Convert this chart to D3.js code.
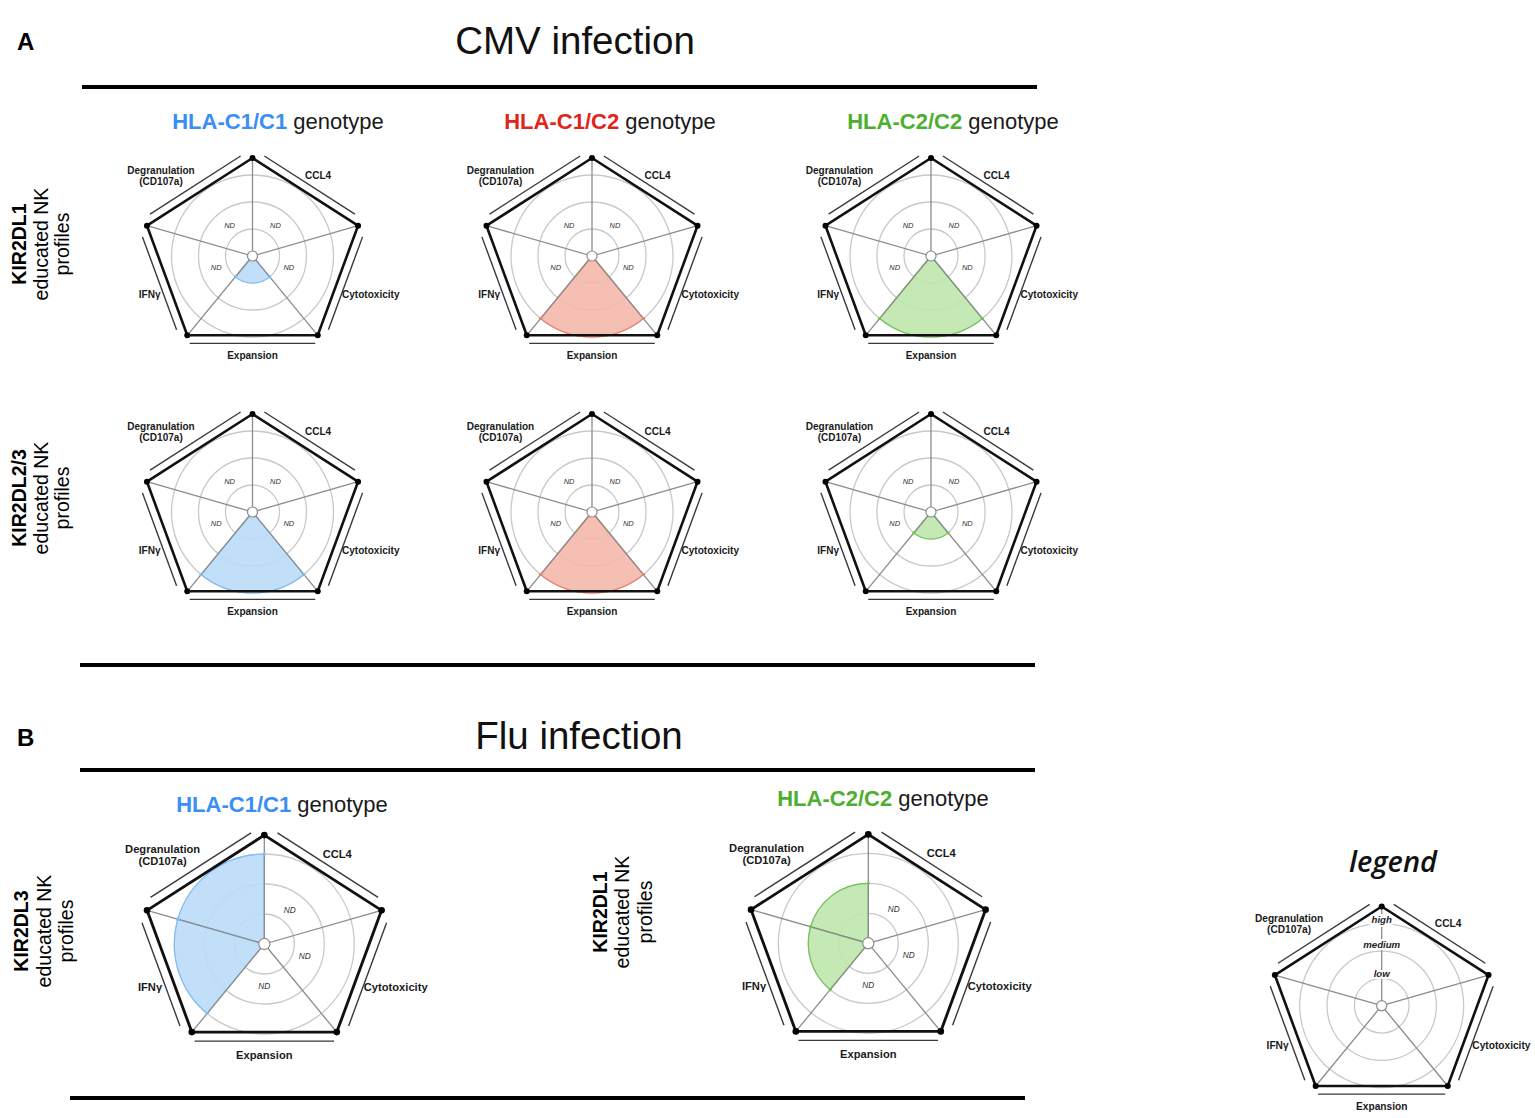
<!DOCTYPE html>
<html><head><meta charset="utf-8">
<script src="https://cdn.jsdelivr.net/npm/d3@7"></script>
<style>body{margin:0;background:#fff} svg{display:block}</style>
</head><body>
<svg id="c" width="1535" height="1118"></svg>
<script>
// ---------- DATA ----------
const categories = ["Degranulation|(CD107a)", "CCL4", "Cytotoxicity", "Expansion", "IFNγ"];
const levelNames = ["ND", "low", "medium", "high"];   // 0 = ND ... 3 = high
const genotypes = ["HLA-C1/C1", "HLA-C1/C2", "HLA-C2/C2"];
const cmvKIR2DL1 = [[0,0,0,1,0],[0,0,0,3,0],[0,0,0,3,0]];
const cmvKIR2DL23 = [[0,0,0,3,0],[0,0,0,3,0],[0,0,0,1,0]];
const fluKIR2DL3_C1C1 = [3,0,0,0,3];
const fluKIR2DL1_C2C2 = [2,0,0,0,2];
const legendValues = [null,null,null,null,null];
const genoColor = {"HLA-C1/C1":"#3a8ef5","HLA-C1/C2":"#e0251c","HLA-C2/C2":"#4daf2f"};
const fillBase = {"HLA-C1/C1":"#bbdcf8","HLA-C1/C2":"#f4b8ab","HLA-C2/C2":"#bee7ad"};
const fillStroke = {"HLA-C1/C1":"#7dbdf2","HLA-C1/C2":"#e9806c","HLA-C2/C2":"#72c455"};

const svg = d3.select("#c");
const FONT = "'Liberation Sans', Arial, Helvetica, sans-serif";
svg.style("font-family", FONT);

const KX = 1.37, KY = 1.21;
// label offsets in units of R (layout)
const labelPos = [[-1.13,-1.06],[0.81,-1.0],[1.46,0.48],[0,1.23],[-1.27,0.48]];

function drawRadar(cx, cy, R, values, geno, opts={}) {
  const g = svg.append("g").attr("transform", `translate(${cx},${cy})`);
  const r = d3.scaleLinear().domain([0,3]).range([0,R]);
  const n = 5;
  const verts = d3.range(n).map(i => {
    const t = i*2*Math.PI/n;
    return [KX*R*Math.sin(t), -KY*R*Math.cos(t)];
  });
  const ang = verts.map(v => { let a = Math.atan2(v[0], -v[1]); if (a < -1e-9) a += 2*Math.PI; return a; });
  const sector = k => {
    let a0 = ang[(k+4)%5], a1 = ang[k];
    if (k === 0) a1 = 2*Math.PI;
    return [a0, a1];
  };
  // grid rings
  g.selectAll("circle.ring").data([1,2,3]).join("circle")
    .attr("r", d => r(d)).attr("fill","none").attr("stroke","#c9c9c9").attr("stroke-width",1.3);
  // fills
  if (geno) {
    const arc = d3.arc().innerRadius(0);
    values.forEach((v,k) => {
      if (!v) return;
      const [a0,a1] = sector(k);
      g.append("path").attr("d", arc({outerRadius:r(v), startAngle:a0, endAngle:a1}))
        .attr("fill", fillBase[geno]).attr("fill-opacity",0.9)
        .attr("stroke", fillStroke[geno]).attr("stroke-width",1.2);
    });
  }
  // spokes
  g.selectAll("line.spoke").data(verts).join("line")
    .attr("x1",0).attr("y1",0).attr("x2",d=>d[0]).attr("y2",d=>d[1])
    .attr("stroke","#8c8c8c").attr("stroke-width",1.3);
  if (geno) {
    values.forEach((v,k) => {
      if (!v) return;
      sector(k).forEach(a => {
        g.append("circle").attr("cx", r(v)*Math.sin(a)).attr("cy", -r(v)*Math.cos(a))
          .attr("r",1.6).attr("fill", fillStroke[geno]);
      });
    });
  }
  // pentagon
  g.append("path").attr("d", d3.line()(verts.concat([verts[0]])))
    .attr("fill","none").attr("stroke","#111").attr("stroke-width",R*0.032).attr("stroke-linejoin","round");
  // parallel outer lines
  const off = R*0.1, inset = R*0.11;
  for (let k=0;k<n;k++){
    const p = verts[(k+4)%5], q = verts[k];
    const dx=q[0]-p[0], dy=q[1]-p[1], L=Math.hypot(dx,dy);
    const ux=dx/L, uy=dy/L;
    let nx=uy, ny=-ux;
    const mx=(p[0]+q[0])/2, my=(p[1]+q[1])/2;
    if (nx*mx+ny*my<0){nx=-nx;ny=-ny;}
    const ins = k===3 ? R*0.03 : inset;
    g.append("line")
      .attr("x1", p[0]+ux*ins+nx*off).attr("y1", p[1]+uy*ins+ny*off)
      .attr("x2", q[0]-ux*ins+nx*off).attr("y2", q[1]-uy*ins+ny*off)
      .attr("stroke","#3a3a3a").attr("stroke-width",1.4);
  }
  g.selectAll("circle.v").data(verts).join("circle")
    .attr("cx",d=>d[0]).attr("cy",d=>d[1]).attr("r",R*0.037).attr("fill","#000");
  g.append("circle").attr("r",R*0.062).attr("fill","#fff").attr("stroke","#8c8c8c").attr("stroke-width",1.2);
  values.forEach((v,k) => {
    if (v !== 0) return;
    const [a0,a1] = sector(k); const a=(a0+a1)/2, d=R*0.47;
    g.append("text").attr("x", d*Math.sin(a)).attr("y", -d*Math.cos(a))
      .attr("text-anchor","middle").attr("dominant-baseline","central")
      .attr("font-size", R*0.092).attr("font-style","italic").attr("fill","#333").text("ND");
  });
  const fs = R*0.124;
  categories.forEach((c,k) => {
    const lines = c.split("|");
    const [lx,ly] = labelPos[k];
    const t = g.append("text").attr("text-anchor","middle").attr("font-size",fs)
      .attr("font-weight","bold").attr("fill","#1a1a1a");
    lines.forEach((s,i) => {
      t.append("tspan").attr("x", lx*R).attr("y", ly*R + i*R*0.135 + fs*0.35).text(s);
    });
  });
  if (opts.legend) {
    [1,2,3].forEach(lv => {
      const y = -(r(lv) + (lv===3? 4 : lv===2 ? 7 : 5));
      g.append("text").attr("x",0).attr("y",y).attr("text-anchor","middle").attr("dominant-baseline","central")
        .attr("font-size",R*0.118).attr("font-weight","bold").attr("font-style","italic").attr("fill","#222")
        .attr("stroke","#fff").attr("stroke-width",4).attr("paint-order","stroke").text(levelNames[lv]);
    });
  }
}

// ---------- LAYOUT ----------
function hline(x1,x2,y){ svg.append("line").attr("x1",x1).attr("x2",x2).attr("y1",y).attr("y2",y).attr("stroke","#000").attr("stroke-width",4); }
function title(x,y,txt){ svg.append("text").attr("x",x).attr("y",y).attr("text-anchor","middle").attr("font-size",38.5).attr("fill","#111").text(txt); }
function panel(x,y,txt){ svg.append("text").attr("x",x).attr("y",y).attr("font-size",24).attr("font-weight","bold").attr("fill","#000").text(txt); }
function genoTitle(x,y,geno){
  const t = svg.append("text").attr("x",x).attr("y",y).attr("text-anchor","middle").attr("font-size",22);
  t.append("tspan").attr("font-weight","bold").attr("fill",genoColor[geno]).text(geno);
  t.append("tspan").attr("fill","#1a1a1a").text(" genotype");
}
function rowLabel(xs, cy, kir){
  const lines=[kir,"educated NK","profiles"];
  lines.forEach((s,i)=>{
    svg.append("text").attr("transform",`translate(${xs[i]},${cy}) rotate(-90)`)
      .attr("text-anchor","middle").attr("dominant-baseline","central")
      .attr("font-size",19.5).attr("font-weight", i===0?"bold":"normal").attr("fill","#000").text(s);
  });
}

panel(17,50,"A");
title(575,54,"CMV infection");
hline(82,1037,87);
const colX = [252.5, 592, 931];
const titleX = [278, 610, 953];
genotypes.forEach((gt,i)=>genoTitle(titleX[i],129,gt));
rowLabel([19,41,62],244,"KIR2DL1");
rowLabel([19,41,62],498,"KIR2DL2/3");
genotypes.forEach((gt,i)=>drawRadar(colX[i],256,81,cmvKIR2DL1[i],gt));
genotypes.forEach((gt,i)=>drawRadar(colX[i],512,81,cmvKIR2DL23[i],gt));
hline(80,1035,665);

panel(17,746,"B");
title(579,749,"Flu infection");
hline(80,1035,770);
genoTitle(282,812,"HLA-C1/C1");
genoTitle(883,806,"HLA-C2/C2");
rowLabel([20.5,43.5,66],931,"KIR2DL3");
rowLabel([600,622,645],912,"KIR2DL1");
drawRadar(264.3,944,90,fluKIR2DL3_C1C1,"HLA-C1/C1");
drawRadar(868.3,943.3,90,fluKIR2DL1_C2C2,"HLA-C2/C2");
hline(70,1025,1098);

svg.append("text").attr("x",1393).attr("y",872).attr("text-anchor","middle").attr("font-size",29)
  .attr("font-style","italic").attr("font-weight",600).attr("font-family","'Open Sans', 'DejaVu Sans', sans-serif").attr("fill","#111").text("legend");
drawRadar(1381.7,1005.7,82,legendValues,null,{legend:true});
</script>
</body></html>
